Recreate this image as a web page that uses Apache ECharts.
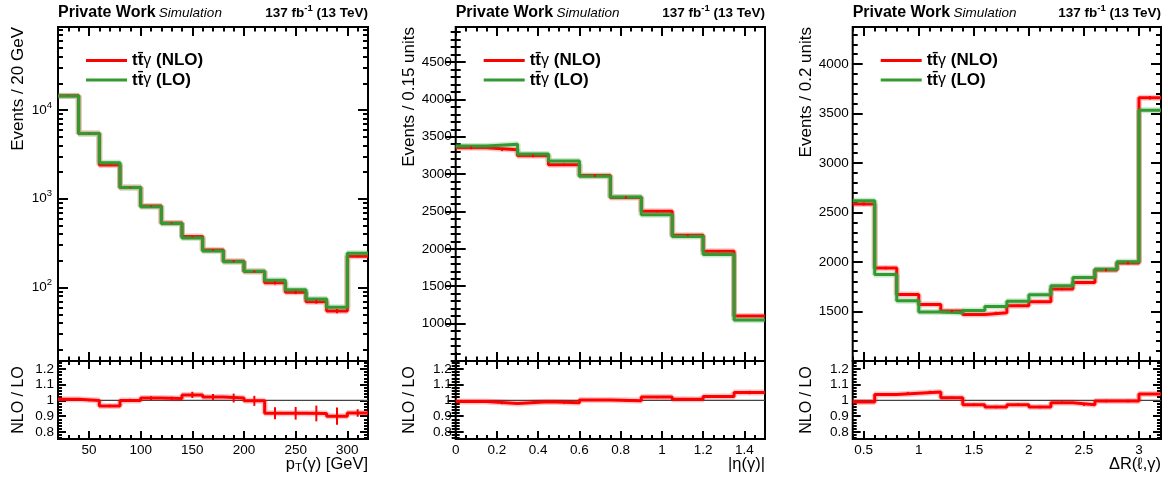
<!DOCTYPE html>
<html><head><meta charset="utf-8">
<script src="https://cdn.jsdelivr.net/npm/echarts@6/dist/echarts.min.js"></script>
<style>html,body{margin:0;padding:0;background:#fff}#c{width:1168px;height:479px}</style>
</head><body><div id="c"></div><script>
const FONT = '"Liberation Sans", Arial, Helvetica, sans-serif';

// ---------- Panel 1 : photon pT ----------
const ptEdges   = [20,40,60,80,100,120,140,160,180,200,220,240,260,280,300,320];
const ptNLO     = [14500,5450,2405,1340,830,534,375,265,198,152,113,88.5,69.4,54.5,225];
const ptLO      = [14390,5450,2550,1340,812,528,361,259,195,152.5,121,94.8,74.5,60,243];
const ptNLOErr  = [60,35,20,13,9,7,6,5,4.5,4,4.5,4,3.5,3,5];
const ptRatio   = [1.008,1.0,0.965,1.0,1.015,1.012,1.035,1.021,1.015,0.997,0.918,0.918,0.917,0.9,0.92];
const ptRatioErr= [0.006,0.006,0.008,0.01,0.012,0.012,0.02,0.02,0.028,0.032,0.038,0.04,0.05,0.055,0.024];
const ptXTicks  = [50,100,150,200,250,300];
const ptYTicks  = [100,1000,10000];

// ---------- Panel 2 : |eta(photon)| ----------
const etaEdges   = [0,0.15,0.3,0.45,0.6,0.75,0.9,1.05,1.2,1.35,1.5];
const etaNLO     = [3352,3326,3245,3125,2980,2688,2504,2183,1969,1102];
const etaLO      = [3375,3398,3268,3174,2973,2695,2455,2166,1925,1049];
const etaNLOErr  = [18,18,18,17,17,16,15,14,14,11];
const etaRatio   = [0.993,0.981,0.992,0.985,1.003,0.998,1.021,1.008,1.025,1.05];
const etaRatioErr= [0.006,0.006,0.006,0.006,0.006,0.006,0.007,0.007,0.008,0.011];
const etaXTicks  = [0,0.2,0.4,0.6,0.8,1,1.2,1.4];
const etaYTicks  = [1000,1500,2000,2500,3000,3500,4000,4500];

// ---------- Panel 3 : DeltaR(lepton, photon) ----------
const drEdges   = [0.4,0.6,0.8,1.0,1.2,1.4,1.6,1.8,2.0,2.2,2.4,2.6,2.8,3.0,3.2];
const drNLO     = [2587,1939,1673,1572,1504,1470,1487,1558,1598,1727,1794,1919,1990,3660];
const drLO      = [2620,1875,1608,1494,1487,1511,1551,1605,1669,1760,1845,1926,2003,3535];
const drNLOErr  = [15,13,12,12,11,11,11,12,12,12,13,13,13,18];
const drRatio   = [0.99,1.038,1.046,1.053,1.017,0.973,0.958,0.973,0.958,0.985,0.973,0.996,0.996,1.04];
const drRatioErr= [0.007,0.008,0.008,0.008,0.008,0.008,0.008,0.008,0.008,0.008,0.008,0.008,0.008,0.006];
const drXTicks  = [0.5,1,1.5,2,2.5,3];
const drYTicks  = [1500,2000,2500,3000,3500,4000];

const ratioYTicks = [0.8,0.9,1,1.1,1.2];
const NLO = 't\u0074\u0304\u03b3 (NLO)';
const LO  = 't\u0074\u0304\u03b3 (LO)';

function minorTicks(a, b, step, majors) {
  const out = []; const n = Math.round((b - a) / step);
  for (let i = 0; i <= n; i++) {
    const v = +(a + i * step).toFixed(6);
    if (!majors.some(m => Math.abs(m - v) < 1e-9)) out.push(v);
  }
  return out;
}
function logMinor(lo, hi) {
  const out = [];
  for (let d = 1; d <= 100000; d *= 10) for (let m = 2; m <= 9; m++) { const v = m * d; if (v > lo && v < hi) out.push(v); }
  return out;
}

const RED = '#ff0000', GREEN = '#339933';
const MAIN_TOP = 27, MAIN_H = 334, RAT_TOP = 361, RAT_H = 78;

const panels = [
  { left: 58, width: 310, edges: ptEdges, nlo: ptNLO, lo: ptLO, nloErr: ptNLOErr, ratio: ptRatio, ratioErr: ptRatioErr,
    yType: 'log', yRange: [14.9, 86000], yMajor: ptYTicks, yMinor: logMinor(14.9, 86000),
    xMajor: ptXTicks, xMinor: minorTicks(20, 320, 10, ptXTicks),
    xFmt: v => String(v), yFmt: v => '{n|10}{s|' + Math.round(Math.log10(v)) + '}', yMargin: 6,
    yTitle: 'Events / 20 GeV', yDx: -40, rDx: -39,
    xTitle: '{m|p}{sub|T}{m|(\u03b3) [GeV]}' },
  { left: 455.7, width: 309.3, edges: etaEdges, nlo: etaNLO, lo: etaLO, nloErr: etaNLOErr, ratio: etaRatio, ratioErr: etaRatioErr,
    yType: 'value', yRange: [500, 4968], yMajor: etaYTicks, yMinor: minorTicks(500, 4900, 100, etaYTicks),
    xMajor: etaXTicks, xMinor: minorTicks(0, 1.5, 0.05, etaXTicks),
    xFmt: v => String(v), yFmt: v => String(v), yMargin: 4,
    yTitle: 'Events / 0.15 units', yDx: -46, rDx: -46,
    xTitle: '{m||\u03b7(\u03b3)|}' },
  { left: 852.7, width: 308.3, edges: drEdges, nlo: drNLO, lo: drLO, nloErr: drNLOErr, ratio: drRatio, ratioErr: drRatioErr,
    yType: 'value', yRange: [1000, 4375], yMajor: drYTicks, yMinor: minorTicks(1000, 4300, 100, drYTicks),
    xMajor: drXTicks, xMinor: minorTicks(0.4, 3.2, 0.1, drXTicks),
    xFmt: v => String(v), yFmt: v => String(v), yMargin: 4,
    yTitle: 'Events / 0.2 units', yDx: -46, rDx: -46,
    xTitle: '{m|\u0394R(\u2113,\u03b3)}' }
];

const grid = [], xAxis = [], yAxis = [], series = [], legend = [], graphic = [];

function axis(type, gridIndex, position, range, values, len, label) {
  const a = {
    type, gridIndex, position, min: range[0], max: range[1], silent: true,
    axisLine: { show: false }, splitLine: { show: false }, minorTick: { show: false },
    axisTick: { show: true, inside: true, length: len, customValues: values, lineStyle: { color: '#000', width: 2 } },
    axisLabel: label ? Object.assign({ show: true, customValues: values, color: '#000', fontFamily: FONT, fontSize: 13.5 }, label) : { show: false },
    axisPointer: { show: false }
  };
  if (type === 'log') a.logBase = 10;
  return a;
}

function stepData(edges, vals) {
  const d = vals.map((v, i) => [edges[i], v]);
  d.push([edges[edges.length - 1], vals[vals.length - 1]]);
  return d;
}
function errData(edges, vals, errs) {
  return vals.map((v, i) => [(edges[i] + edges[i + 1]) / 2, v, errs[i]]);
}
function errSeries(xi, yi, data, color) {
  return { type: 'custom', xAxisIndex: xi, yAxisIndex: yi, data, silent: true, z: 6, clip: true,
    renderItem(params, api) {
      const x = api.value(0), y = api.value(1), e = api.value(2);
      const p1 = api.coord([x, y - e]), p2 = api.coord([x, y + e]);
      return { type: 'line', shape: { x1: p1[0], y1: p1[1], x2: p2[0], y2: p2[1] }, style: { stroke: color, lineWidth: 2 } };
    } };
}
function stepSeries(name, xi, yi, data, color, width, z) {
  return { type: 'line', name, xAxisIndex: xi, yAxisIndex: yi, data, step: 'end', symbol: 'none', silent: true, z,
    lineStyle: { color, width }, itemStyle: { color } };
}

const richAxis = { n: { fontSize: 13.5, fontFamily: FONT, lineHeight: 20, color: '#000' },
                   s: { fontSize: 9.5, fontFamily: FONT, lineHeight: 9, verticalAlign: 'top', color: '#000' } };

panels.forEach((p, k) => {
  const gMain = grid.length;
  grid.push({ left: p.left, top: MAIN_TOP, width: p.width, height: MAIN_H, show: true, borderColor: '#000', borderWidth: 2, backgroundColor: 'transparent' });
  const gRat = grid.length;
  grid.push({ left: p.left, top: RAT_TOP, width: p.width, height: RAT_H, show: true, borderColor: '#000', borderWidth: 2, backgroundColor: 'transparent' });
  const xr = [p.edges[0], p.edges[p.edges.length - 1]];
  const rr = [0.755, 1.25];

  // main pad axes
  const xMain = xAxis.length;
  xAxis.push(axis('value', gMain, 'bottom', xr, p.xMajor, 9, null));
  xAxis.push(axis('value', gMain, 'bottom', xr, p.xMinor, 4.5, null));
  xAxis.push(axis('value', gMain, 'top', xr, p.xMajor, 9, null));
  xAxis.push(axis('value', gMain, 'top', xr, p.xMinor, 4.5, null));
  const yMain = yAxis.length;
  yAxis.push(axis(p.yType, gMain, 'left', p.yRange, p.yMajor, 10,
    { formatter: p.yFmt, margin: p.yMargin, rich: richAxis }));
  yAxis.push(axis(p.yType, gMain, 'left', p.yRange, p.yMinor, 5, null));
  yAxis.push(axis(p.yType, gMain, 'right', p.yRange, p.yMajor, 10, null));
  yAxis.push(axis(p.yType, gMain, 'right', p.yRange, p.yMinor, 5, null));

  // ratio pad axes
  const xRat = xAxis.length;
  xAxis.push(axis('value', gRat, 'bottom', xr, p.xMajor, 8, { formatter: p.xFmt, margin: 4 }));
  xAxis.push(axis('value', gRat, 'bottom', xr, p.xMinor, 4, null));
  xAxis.push(axis('value', gRat, 'top', xr, p.xMajor, 8, null));
  xAxis.push(axis('value', gRat, 'top', xr, p.xMinor, 4, null));
  const yRat = yAxis.length;
  const rMinor = minorTicks(0.76, 1.24, 0.02, ratioYTicks);
  yAxis.push(axis('value', gRat, 'left', rr, ratioYTicks, 8, { formatter: v => (Math.abs(v - 1) < 1e-9 ? '1' : v.toFixed(1)), margin: 4 }));
  yAxis.push(axis('value', gRat, 'left', rr, rMinor, 4, null));
  yAxis.push(axis('value', gRat, 'right', rr, ratioYTicks, 8, null));
  yAxis.push(axis('value', gRat, 'right', rr, rMinor, 4, null));

  // main pad series
  series.push(stepSeries('nlo-band' + k, xMain, yMain, stepData(p.edges, p.nlo), 'rgba(255,0,0,0.22)', 6, 2));
  series.push(stepSeries(NLO, xMain, yMain, stepData(p.edges, p.nlo), RED, 3, 3));
  series.push(stepSeries('lo-band' + k, xMain, yMain, stepData(p.edges, p.lo), 'rgba(51,170,51,0.25)', 6, 4));
  series.push(stepSeries(LO, xMain, yMain, stepData(p.edges, p.lo), GREEN, 3, 5));
  series.push(errSeries(xMain, yMain, errData(p.edges, p.nlo, p.nloErr), RED));

  // ratio pad series
  series.push({ type: 'line', name: 'unity' + k, xAxisIndex: xRat, yAxisIndex: yRat, data: [[xr[0], 1], [xr[1], 1]],
    symbol: 'none', silent: true, z: 1, lineStyle: { color: '#444', width: 1.3 } });
  series.push(stepSeries('ratio-band' + k, xRat, yRat, stepData(p.edges, p.ratio), 'rgba(255,0,0,0.22)', 6, 2));
  series.push(stepSeries('ratio' + k, xRat, yRat, stepData(p.edges, p.ratio), RED, 3, 3));
  series.push(errSeries(xRat, yRat, errData(p.edges, p.ratio, p.ratioErr), RED));

  // legend
  legend.push({ left: p.left + 28, top: 51, orient: 'vertical', data: [NLO, LO], selectedMode: false,
    icon: 'rect', itemWidth: 41, itemHeight: 3, itemGap: 0.5, padding: 0,
    formatter: n => n === NLO ? '{t|t\u0074\u0304}{g|\u03b3}{t| (NLO)}' : '{t|t\u0074\u0304}{g|\u03b3}{t| (LO)}',
    textStyle: { fontFamily: FONT, fontSize: 17, lineHeight: 19, color: '#000',
      rich: { t: { fontFamily: FONT, fontSize: 17, fontWeight: 'bold', lineHeight: 19, color: '#000' },
              g: { fontFamily: FONT, fontSize: 16, fontWeight: 'normal', lineHeight: 19, color: '#000' } } } });

  // texts
  const right = p.left + p.width;
  graphic.push({ type: 'text', x: p.left, y: 12.8, silent: true, style: {
    text: '{b|Private Work} {i|Simulation}', align: 'left', verticalAlign: 'middle',
    rich: { b: { fontFamily: FONT, fontSize: 16, fontWeight: 'bold', fill: '#000', lineHeight: 18 },
            i: { fontFamily: FONT, fontSize: 13.5, fontStyle: 'italic', fill: '#000', lineHeight: 18 } } } });
  graphic.push({ type: 'text', x: right, y: 12.8, silent: true, style: {
    text: '{b|137 fb}{s|-1}{b| (13 TeV)}', align: 'right', verticalAlign: 'middle',
    rich: { b: { fontFamily: FONT, fontSize: 13.5, fontWeight: 'bold', fill: '#000', lineHeight: 18 },
            s: { fontFamily: FONT, fontSize: 9.5, fontWeight: 'bold', fill: '#000', lineHeight: 9, verticalAlign: 'top' } } } });
  graphic.push({ type: 'text', x: p.left + p.yDx, y: MAIN_TOP, rotation: Math.PI / 2, silent: true, style: {
    text: p.yTitle, align: 'right', verticalAlign: 'middle', fontFamily: FONT, fontSize: 17, fill: '#000' } });
  graphic.push({ type: 'text', x: p.left + p.rDx, y: RAT_TOP + RAT_H / 2, rotation: Math.PI / 2, silent: true, style: {
    text: 'NLO / LO', align: 'center', verticalAlign: 'middle', fontFamily: FONT, fontSize: 16, fill: '#000' } });
  graphic.push({ type: 'text', x: right, y: 464, silent: true, style: {
    text: p.xTitle, align: 'right', verticalAlign: 'middle',
    rich: { m: { fontFamily: FONT, fontSize: 16.5, fill: '#000', lineHeight: 20 },
            sub: { fontFamily: FONT, fontSize: 11.5, fill: '#000', lineHeight: 10, verticalAlign: 'bottom' } } } });
});

const chart = echarts.init(document.getElementById('c'), null, { renderer: 'canvas' });
chart.setOption({
  animation: false, backgroundColor: '#fff',
  textStyle: { fontFamily: FONT },
  grid, xAxis, yAxis, series, legend, graphic
});
</script></body></html>
